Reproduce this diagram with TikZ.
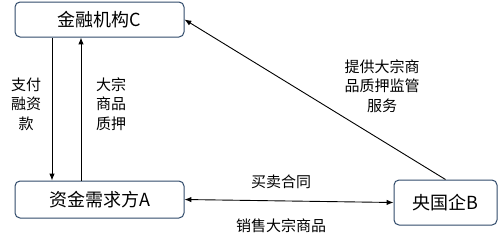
\documentclass[tikz,border=0pt]{standalone}
\usepackage{fontspec}
\setmainfont{Noto Sans CJK SC}
\usetikzlibrary{arrows.meta,positioning}
\definecolor{boxline}{HTML}{2F4A6A}

\begin{document}
\begin{tikzpicture}[x=1pt, y=-1pt,
  box/.style={draw=boxline, line width=1pt, rounded corners=5pt, align=center, inner sep=0pt, font=\fontsize{18}{21}\selectfont},
  arrow/.style={-{Latex[length=2.4mm, width=1.9mm]}, line width=0.9pt},
  lbl/.style={align=center, inner sep=0pt, font=\fontsize{15}{19.5}\selectfont}
]
\useasboundingbox (0,0) rectangle (498,247);
\node[box, minimum width=169pt, minimum height=35pt] (fin) at (99.5,19.5) {金融机构C};
\node[box, minimum width=169pt, minimum height=37pt] (dem) at (99.5,199.5) {资金需求方A};
\node[box, minimum width=103pt, minimum height=45pt] (soe) at (445.5,202.5) {央国企B};
\draw[arrow] ([xshift=-47.5pt]fin.south) -- ([xshift=-47.5pt]dem.north);
\draw[arrow] ([xshift=-18.5pt]dem.north) -- ([xshift=-18.5pt]fin.south);
\draw[arrow] (soe.north) -- (fin.east);
\draw[arrow, {Latex[length=2.4mm, width=1.9mm]}-{Latex[length=2.4mm, width=1.9mm]}] (dem.east) -- (soe.west);
\node[lbl] (pay) at (26,104) {支付\\融资\\款};
\node[lbl] (pledge) at (111,104) {大宗\\商品\\质押};
\node[lbl] (service) at (382,86) {提供大宗商\\品质押监管\\服务};
\node[lbl] (contract) at (281,182) {买卖合同};
\node[lbl] (sale) at (281,226) {销售大宗商品};
\end{tikzpicture}
\end{document}
